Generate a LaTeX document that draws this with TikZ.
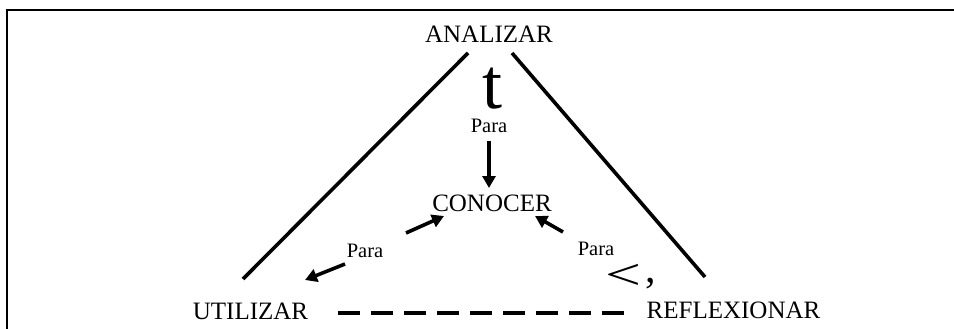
\documentclass[tikz,border=0pt]{standalone}
\usepackage{fontspec}
\setmainfont{Liberation Serif}
\usetikzlibrary{arrows.meta}
\begin{document}
\begin{tikzpicture}[x=1pt,y=-1pt,
  word/.style={anchor=base,inner sep=0pt,font=\fontsize{25}{30}\selectfont},
  small/.style={anchor=base,inner sep=0pt,font=\fontsize{20.5}{24}\selectfont},
  thick line/.style={line width=3.6pt},
  arr/.style={line width=3.6pt,-{Triangle[length=12pt,width=13pt]}},
  frame/.style={line width=2.5pt}]
\useasboundingbox (0,0) rectangle (954,329);
\draw[frame] (7,329) -- (7,10) -- (954,10);
% words
\node[word] (analizar) at (489,43) {ANALIZAR};
\node[anchor=base,inner sep=0pt,font=\fontsize{72}{80}\selectfont] (t) at (492,109) {t};
\node[small] (para1) at (489,132) {Para};
\node[word] (conocer) at (492,211) {CONOCER};
\node[small] (para2) at (365,257) {Para};
\node[small] (para3) at (596,255) {Para};
\node[anchor=center,inner sep=0pt,font=\fontsize{44}{48}\selectfont] (lt) at (623,276.5) {\scalebox{1.45}[1]{<}};
\node[anchor=base,inner sep=0pt,font=\fontsize{42}{46}\selectfont] (comma) at (651,282) {,};
\node[word] (utilizar) at (250.5,319) {UTILIZAR};
\node[word] (reflex) at (733.5,318) {REFLEXIONAR};
% triangle sides
\coordinate (ltop) at (468,53);
\coordinate (lbot) at (243,279);
\coordinate (rtop) at (512,53);
\coordinate (rbot) at (705,277);
\draw[thick line] (lbot) -- (ltop);
\draw[thick line] (rtop) -- (rbot);
% arrows
\coordinate (a1s) at (489,141);
\coordinate (a1e) at (489,188);
\coordinate (a2s) at (406,233);
\coordinate (a2e) at (444,216);
\coordinate (a3s) at (345,264);
\coordinate (a3e) at (305,280);
\coordinate (a4s) at (563,232);
\coordinate (a4e) at (535,216);
\draw[arr] (a1s) -- (a1e);
\draw[arr] (a2s) -- (a2e);
\draw[arr] (a3s) -- (a3e);
\draw[arr] (a4s) -- (a4e);
% dashed base
\coordinate (ds) at (338,313);
\coordinate (de) at (627,313);
\draw[line width=3.6pt,dash pattern=on 22pt off 11pt] (ds) -- (de);
\end{tikzpicture}
\end{document}
